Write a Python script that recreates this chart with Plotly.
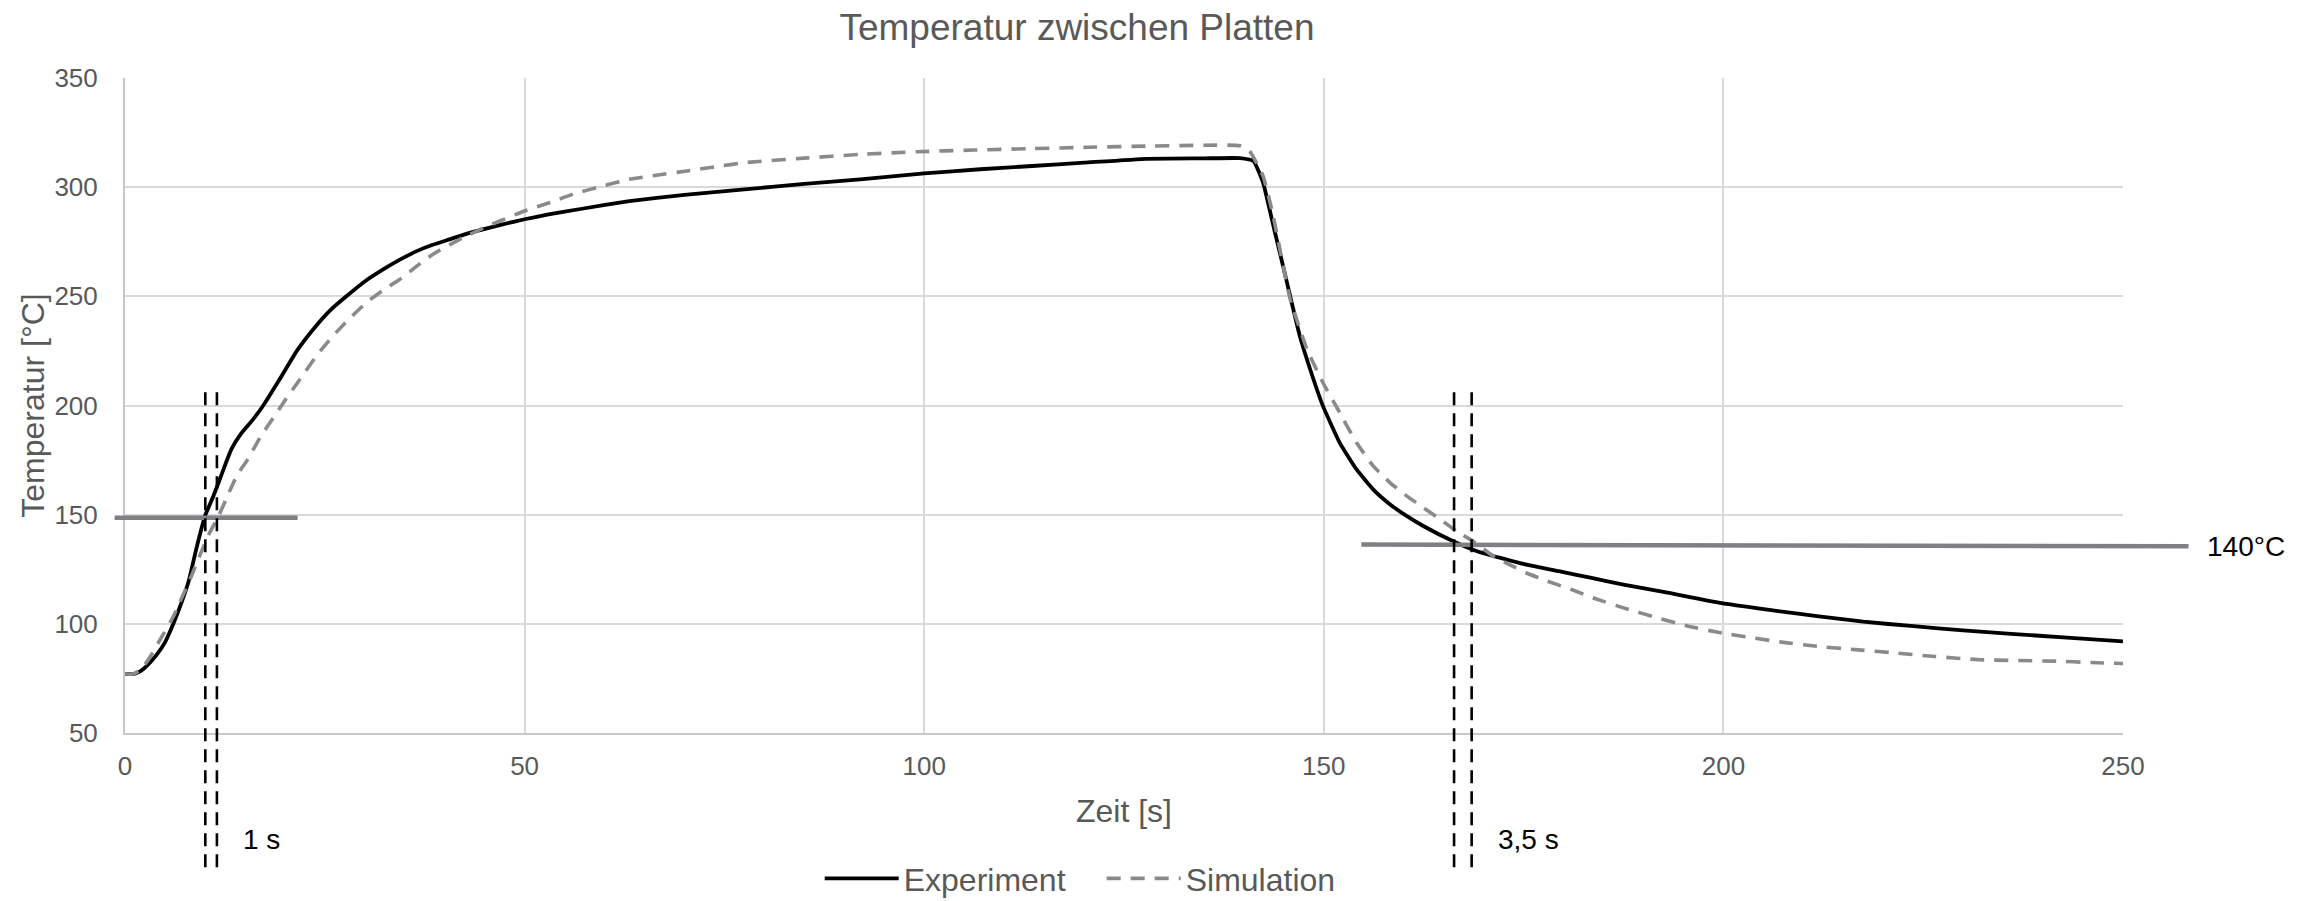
import plotly.graph_objects as go

# ---------------- data ----------------
time_exp = [0, 1, 2, 2.7, 4, 5, 6.1, 7, 8, 8.9, 10, 11, 11.7, 12.5, 13.3, 14.5, 16, 17.3, 19.35,
            21.5, 23.9, 25.8, 27.7, 30, 32.3, 34.4, 36.5, 38.5, 40.6, 42.7, 44.8, 47.5, 50, 53,
            57, 63.1, 70, 77.5, 85, 92, 100, 107, 113.5, 120, 127.8, 135, 139.5, 141.2, 142.4,
            143.7, 144.9, 145.8, 147, 148.3, 149.9, 152, 154.1, 156.2, 158.3, 160.4, 162.5,
            166.2, 169, 172.1, 175.5, 179.4, 183.5, 187.5, 193, 199.6, 205.5, 211.7, 217.5,
            223.8, 230, 236, 243, 250]
temp_exp = [77, 77, 78.5, 80.6, 86, 91.5, 100.5, 109, 120, 134, 149.3, 158, 164.6, 172.5, 179.9,
            187, 193.5, 200, 212, 225, 236.4, 244, 250, 256.8, 262.3, 266.8, 270.7, 273.6, 276.1,
            278.6, 280.7, 283.2, 285.3, 287.5, 290, 293.6, 296.5, 299, 301.5, 303.6, 306.3, 308.2,
            309.7, 311.2, 313, 313.2, 313.3, 312, 302.1, 282.2, 263.9, 250, 231.8, 216.5, 199.7,
            182.9, 170.7, 161.5, 154.7, 149.3, 144.7, 137.8, 133.5, 130.2, 127, 124.1, 121, 118,
            114.3, 109.6, 106.5, 103.5, 101, 98.9, 97, 95.4, 93.7, 92]

time_sim = [0, 1, 2, 3, 4.4, 6, 7, 8.3, 9.5, 10.5, 11.7, 13, 14, 15.3, 17, 18.5, 20.1, 21.9, 24,
            26, 28, 30.2, 32.3, 34.4, 36.5, 38.5, 40.6, 42.7, 44.8, 46.9, 50, 53.1, 56, 59.5,
            63.1, 66.7, 70.3, 74, 77.5, 85, 91.9, 99, 106.2, 113, 120.6, 128, 135, 139.5, 140.7,
            142.4, 143.6, 144.7, 145.8, 147.9, 149.9, 152, 154.1, 156.2, 158.3, 160.4, 162.5,
            164.6, 166.6, 168.7, 171.2, 173.3, 175.3, 178, 181, 184, 187.5, 191.5, 195.6, 199.5,
            203.6, 207.5, 211.7, 216.5, 221.4, 226.5, 231.9, 236.5, 241.6, 246, 250]
temp_sim = [77, 77, 79, 84, 92.8, 103, 111, 121.8, 132.5, 141, 149.3, 160, 168, 175, 186, 194,
            202.8, 212, 223, 231.8, 239.5, 247.1, 252.8, 257.8, 263.8, 269.2, 273.6, 277.6, 281.2,
            284.5, 289.1, 292.9, 296.7, 300.3, 303.6, 305.6, 307.4, 309.4, 311.2, 313.3, 315,
            316.2, 317, 317.6, 318.3, 318.8, 319.2, 319, 316.6, 305.1, 288, 268, 248.6, 225.7,
            210.4, 196.7, 182.9, 172.2, 164.6, 158.5, 153.1, 147.8, 142.4, 137.8, 131, 127, 123.4,
            119.5, 115.7, 111.5, 107.3, 103, 98.9, 96, 93.6, 91.5, 89.7, 88.2, 86.7, 85, 83.6,
            83.2, 82.9, 82.3, 81.8]

# reference markers
heat_line_t = [-1.3, 21.6]      # horizontal line during heating (time range)
heat_line_T = [148.6, 148.6]
cool_line_t = [154.7, 258.2]    # horizontal line during cooling
cool_line_T = [136.3, 135.5]
cool_label = "140°C"
heat_marks = [10.05, 11.5]      # vertical dashed lines, heating
cool_marks = [166.3, 168.5]     # vertical dashed lines, cooling
heat_label = "1 s"
cool_label_dt = "3,5 s"

x_range = [0, 250]
y_range = [50, 350]
x_ticks = [0, 50, 100, 150, 200, 250]
y_ticks = [50, 100, 150, 200, 250, 300, 350]

FONT = "Liberation Sans, Arial, sans-serif"
TXT = "#595959"

fig = go.Figure()
fig.add_trace(go.Scatter(x=time_exp, y=temp_exp, mode="lines", name="Experiment",
                         line=dict(color="#000000", width=3.8, shape="spline", smoothing=0.4)))
fig.add_trace(go.Scatter(x=time_sim, y=temp_sim, mode="lines", name="Simulation",
                         line=dict(color="#8a8a8e", width=3.6, dash="14px,10px",
                                   shape="spline", smoothing=0.4)))


def to_paper_x(v):
    return (v - x_range[0]) / (x_range[1] - x_range[0])


shapes = []
for tt, TT in ((heat_line_t, heat_line_T), (cool_line_t, cool_line_T)):
    shapes.append(dict(type="line", xref="paper", yref="y",
                       x0=to_paper_x(tt[0]), x1=to_paper_x(tt[1]), y0=TT[0], y1=TT[1],
                       line=dict(color="#7f7f84", width=4.5), layer="above"))
for xv in heat_marks + cool_marks:
    shapes.append(dict(type="line", xref="x", yref="paper", x0=xv, x1=xv,
                       y0=-0.205, y1=0.523,
                       line=dict(color="#000000", width=2.6, dash="13px,8px"), layer="above"))

annotations = [
    dict(x=heat_marks[1], y=-0.163, xref="x", yref="paper", text=heat_label,
         showarrow=False, xanchor="left", yanchor="middle", xshift=24,
         font=dict(family=FONT, size=28, color="#000000")),
    dict(x=cool_marks[1], y=-0.163, xref="x", yref="paper", text=cool_label_dt,
         showarrow=False, xanchor="left", yanchor="middle", xshift=24,
         font=dict(family=FONT, size=28, color="#000000")),
    dict(x=1.041, y=cool_line_T[1], xref="paper", yref="y", text=cool_label,
         showarrow=False, xanchor="left", yanchor="middle",
         font=dict(family=FONT, size=28, color="#000000")),
]

fig.update_layout(
    width=2313, height=901,
    margin=dict(l=125, r=190, t=78, b=168, autoexpand=False),
    paper_bgcolor="white", plot_bgcolor="white",
    font=dict(family=FONT, color=TXT),
    title=dict(text="Temperatur zwischen Platten", x=1077 / 2313, xref="container",
               xanchor="center", y=1 - 27 / 901, yref="container", yanchor="middle",
               font=dict(family=FONT, size=37, color=TXT)),
    showlegend=True,
    legend=dict(orientation="h", x=0.3477, xanchor="left", y=-0.2222, yanchor="middle",
                font=dict(family=FONT, size=32, color=TXT), bgcolor="rgba(0,0,0,0)",
                itemwidth=74, entrywidth=193, entrywidthmode="pixels"),
    shapes=shapes,
    annotations=annotations,
)
fig.update_xaxes(range=x_range, tickvals=x_ticks, showgrid=True, gridcolor="#d9d9d9",
                 gridwidth=1.6, showline=True, linecolor="#c8c8c8", linewidth=2,
                 zeroline=False, ticks="", tickfont=dict(family=FONT, size=26, color=TXT),
                 ticklabelstandoff=9,
                 title=dict(text="Zeit [s]", font=dict(family=FONT, size=32, color=TXT),
                            standoff=19))
fig.update_yaxes(range=y_range, tickvals=y_ticks, showgrid=True, gridcolor="#d9d9d9",
                 gridwidth=1.6, showline=True, linecolor="#c8c8c8", linewidth=2,
                 zeroline=False, ticks="", tickfont=dict(family=FONT, size=26, color=TXT),
                 ticklabelstandoff=20,
                 title=dict(text="Temperatur [°C]", font=dict(family=FONT, size=32, color=TXT),
                            standoff=0))

fig.write_html("out.html")
